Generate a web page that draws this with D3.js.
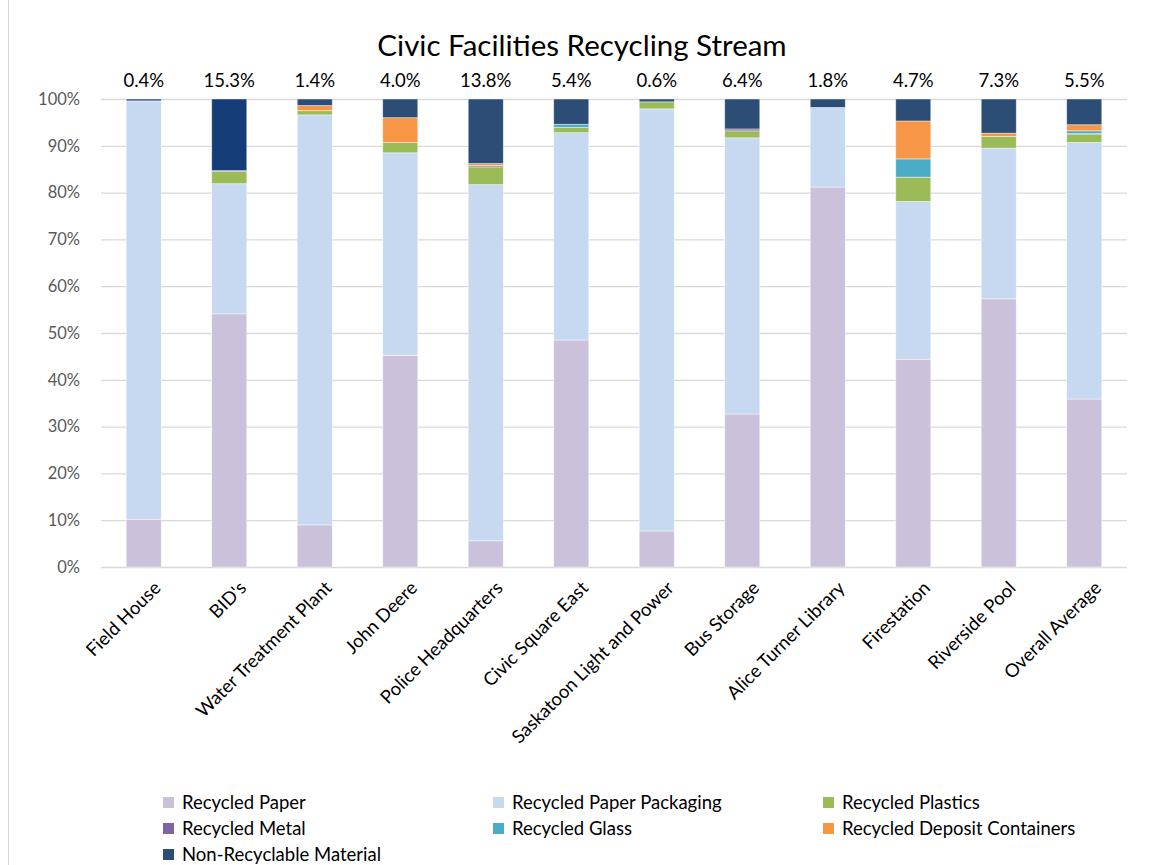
<!DOCTYPE html>
<html>
<head>
<meta charset="utf-8">
<script src="https://cdn.jsdelivr.net/npm/d3@7"></script>
<style>
  html, body { margin: 0; padding: 0; background: #fff; }
  svg { display: block; font-family: Lato, "Open Sans", sans-serif; }
</style>
</head>
<body>
<div id="chart"></div>
<script>
(function(){
  'use strict';

  // facilities along the x axis
  var categories = ["Field House", "BID's", "Water Treatment Plant", "John Deere",
    "Police Headquarters", "Civic Square East", "Saskatoon Light and Power",
    "Bus Storage", "Alice Turner Library", "Firestation", "Riverside Pool", "Overall Average"];

  // share of each stream, in percent
  var recycledPaper   = [10.2, 54.1, 9.0, 45.2, 5.6, 48.5, 7.7, 32.7, 81.2, 44.4, 57.3, 35.9];
  var paperPackaging  = [89.4, 27.8, 87.6, 43.3, 76.1, 44.3, 90.2, 59.0, 17.0, 33.7, 32.2, 54.8];
  var plastics        = [0, 2.6, 0.9, 2.2, 3.8, 1.1, 1.5, 1.5, 0, 5.2, 2.5, 1.8];
  var metal           = [0, 0.2, 0, 0, 0.3, 0, 0, 0.4, 0, 0, 0, 0.1];
  var glass           = [0, 0, 0, 0, 0, 0.7, 0, 0, 0, 3.9, 0, 0.6];
  var depositContainers = [0, 0, 1.1, 5.3, 0.4, 0, 0, 0, 0, 8.1, 0.7, 1.3];
  var nonRecyclable   = [0.4, 15.3, 1.4, 4.0, 13.8, 5.4, 0.6, 6.4, 1.8, 4.7, 7.3, 5.5];

  var yTicks = [0, 10, 20, 30, 40, 50, 60, 70, 80, 90, 100];

  var series = [
    {name: "Recycled Paper",              values: recycledPaper,     color: "#ccc1da"},
    {name: "Recycled Paper Packaging",    values: paperPackaging,    color: "#c6d9f1"},
    {name: "Recycled Plastics",           values: plastics,          color: "#9bbb59"},
    {name: "Recycled Metal",              values: metal,             color: "#8064a2"},
    {name: "Recycled Glass",              values: glass,             color: "#4bacc6"},
    {name: "Recycled Deposit Containers", values: depositContainers, color: "#f79646"},
    {name: "Non-Recyclable Material",     values: nonRecyclable,     color: "#2c4d75"}
  ];
  // BID's non-recyclable point was recoloured in the original
  var bidsColor = "#143d78";

  var W = 1150, H = 865;
  var plot = {left: 101, right: 1127, top: 99, bottom: 567};

  var svg = d3.select("#chart").append("svg")
    .attr("width", W).attr("height", H);

  // chart border (only the left edge shows in the crop)
  svg.append("rect")
    .attr("x", 8.5).attr("y", -2)
    .attr("width", W + 10).attr("height", H + 10)
    .attr("fill", "none").attr("stroke", "#d9d9d9");

  svg.append("text")
    .attr("x", 582).attr("y", 56)
    .attr("text-anchor", "middle")
    .attr("font-size", 29.5)
    .attr("fill", "#000")
    .text("Civic Facilities Recycling Stream");

  var x = d3.scaleBand()
    .domain(categories)
    .range([plot.left, plot.right])
    .paddingInner(0.59)
    .paddingOuter(0.295);

  var y = d3.scaleLinear()
    .domain([0, 100])
    .range([plot.bottom, plot.top]);

  //gridlines + y labels
  var yAxis = svg.append("g")
    .attr("transform", "translate(" + plot.left + ",0)")
    .call(d3.axisLeft(y).tickValues(yTicks)
      .tickSize(-(plot.right - plot.left))
      .tickPadding(21)
      .tickFormat(function(d){ return d + "%"; }));
  yAxis.select(".domain").remove();
  yAxis.selectAll(".tick line").attr("stroke", "#d9d9d9").attr("stroke-width", 1.3);
  yAxis.selectAll(".tick text")
    .attr("fill", "#595959")
    .attr("font-size", 16.5)
    .attr("font-family", "Lato, sans-serif");

  //stacked bars
  var rows = categories.map(function(c, i){
    var r = {category: c, idx: i};
    series.forEach(function(s){ r[s.name] = s.values[i]; });
    return r;
  });
  var stacked = d3.stack().keys(series.map(function(s){ return s.name; }))(rows);

  svg.append("g").selectAll("g")
    .data(stacked)
    .enter().append("g")
    .attr("fill", function(d, i){ return series[i].color; })
    .selectAll("rect")
    .data(function(d){ return d; })
    .enter().append("rect")
    .attr("x", function(d){ return x(d.data.category); })
    .attr("y", function(d){ return y(d[1]); })
    .attr("width", x.bandwidth())
    .attr("height", function(d){ return y(d[0]) - y(d[1]); })
    .attr("fill", function(d){
      var key = d3.select(this.parentNode).datum().key;
      return (key === "Non-Recyclable Material" && d.data.category === "BID's") ? bidsColor : null;
    })
    .attr("stroke", "rgba(255,255,255,0.55)")
    .attr("stroke-width", 0.8);

  //data labels (non-recyclable share)
  svg.append("g").selectAll("text")
    .data(categories)
    .enter().append("text")
    .attr("x", function(d){ return x(d) + x.bandwidth() / 2; })
    .attr("y", y(100) - 12)
    .attr("text-anchor", "middle")
    .attr("font-size", 18.5)
    .attr("fill", "#000")
    .text(function(d, i){ return d3.format(".1f")(nonRecyclable[i]) + "%"; });

  //rotated category labels
  svg.append("g").selectAll("text")
    .data(categories)
    .enter().append("text")
    .attr("transform", function(d){
      return "translate(" + (x(d) + x.bandwidth() / 2 + 9) + "," + (plot.bottom + 13) + ") rotate(-45)";
    })
    .attr("text-anchor", "end")
    .attr("dy", "0.7em")
    .attr("font-size", 18.5)
    .attr("fill", "#000")
    .text(function(d){ return d; });

  //legend
  var legend = svg.append("g").selectAll("g")
    .data(series)
    .enter().append("g")
    .attr("transform", function(d, i){
      return "translate(" + (163 + (i % 3) * 330) + "," + (803 + Math.floor(i / 3) * 26) + ")";
    });
  legend.append("rect")
    .attr("x", 0).attr("y", -6)
    .attr("width", 11).attr("height", 11)
    .attr("fill", function(d){ return d.color; });
  legend.append("text")
    .attr("x", 19).attr("y", 0)
    .attr("dy", "0.35em")
    .attr("font-size", 18.5)
    .attr("fill", "#000")
    .text(function(d){ return d.name; });
})();
</script>
</body>
</html>
